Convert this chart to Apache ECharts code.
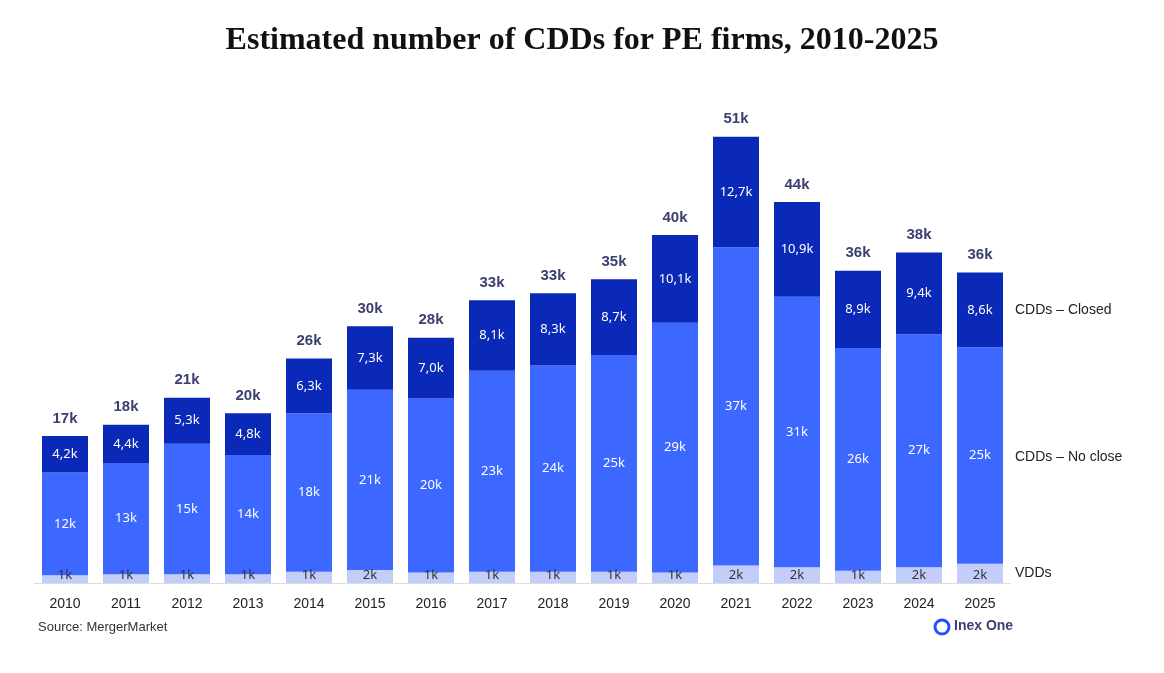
<!DOCTYPE html>
<html><head><meta charset="utf-8">
<script src="https://cdn.jsdelivr.net/npm/echarts@6/dist/echarts.min.js"></script>
<style>html,body{margin:0;background:#fff}#c{width:1164px;height:673px}</style>
</head><body><div id="c"></div>
<script>
const years=['2010','2011','2012','2013','2014','2015','2016','2017','2018','2019','2020','2021','2022','2023','2024','2025'];
const vdds=[0.9,1.0,1.0,1.0,1.3,1.5,1.2,1.3,1.3,1.3,1.2,2.0,1.8,1.4,1.8,2.2];
const noClose=[11.8,12.8,15.0,13.7,18.2,20.7,20.0,23.1,23.7,24.9,28.7,36.6,31.1,25.6,26.8,24.9];
const closed=[4.2,4.4,5.3,4.8,6.3,7.3,7.0,8.1,8.3,8.7,10.1,12.7,10.9,8.9,9.4,8.6];
const totals=years.map((_,i)=>vdds[i]+noClose[i]+closed[i]);
const fmtK=v=>Math.round(v)+'k';
const fmtD=v=>v.toFixed(1).replace('.',',')+'k';
const ch=echarts.init(document.getElementById('c'));
const lab={show:true,color:'#fff',fontSize:13,fontFamily:'Noto Sans, sans-serif'};
ch.setOption({
 animation:false,
 title:{text:'Estimated number of CDDs for PE firms, 2010-2025',left:'center',top:20,textStyle:{fontFamily:'Liberation Serif',fontSize:32,fontWeight:'bold',color:'#111'}},
 grid:{left:34.5,right:153.5,top:61,bottom:90},
 xAxis:{type:'category',data:years,axisTick:{show:false},axisLine:{lineStyle:{color:'#ddd'}},axisLabel:{color:'#222',fontSize:14,margin:14}},
 yAxis:{type:'value',max:60,show:false},
 series:[
  {name:'VDDs',type:'bar',stack:'a',data:vdds,barWidth:46,itemStyle:{color:'#c3cdfa'},label:{...lab,color:'#333',position:'insideBottom',distance:1,formatter:p=>fmtK(p.value)}},
  {name:'CDDs – No close',type:'bar',stack:'a',data:noClose,itemStyle:{color:'#3d68ff'},label:{...lab,formatter:p=>fmtK(p.value)}},
  {name:'CDDs – Closed',type:'bar',stack:'a',data:closed,itemStyle:{color:'#0b29b8'},label:{...lab,formatter:p=>fmtD(p.value)}},
  {name:'total',type:'bar',stack:'a',data:years.map(()=>0),label:{show:true,position:'top',distance:10,color:'#3b4070',fontSize:15,fontWeight:'bold',formatter:p=>fmtK(totals[p.dataIndex])}}
 ],
 graphic:[
  {type:'text',left:1015,top:303,style:{text:'CDDs – Closed',fontSize:14,fill:'#222'}},
  {type:'text',left:1015,top:450,style:{text:'CDDs – No close',fontSize:14,fill:'#222'}},
  {type:'text',left:1015,top:566,style:{text:'VDDs',fontSize:14,fill:'#222'}},
  {type:'text',left:38,top:621,style:{text:'Source: MergerMarket',fontSize:13,fill:'#333'}},
  {type:'circle',shape:{cx:942,cy:627,r:7},style:{fill:'none',stroke:'#2050ff',lineWidth:3}},
  {type:'text',left:954,top:619,style:{text:'Inex One',fontSize:14,fontWeight:'bold',fill:'#3b4070'}}
 ]
});
</script></body></html>
